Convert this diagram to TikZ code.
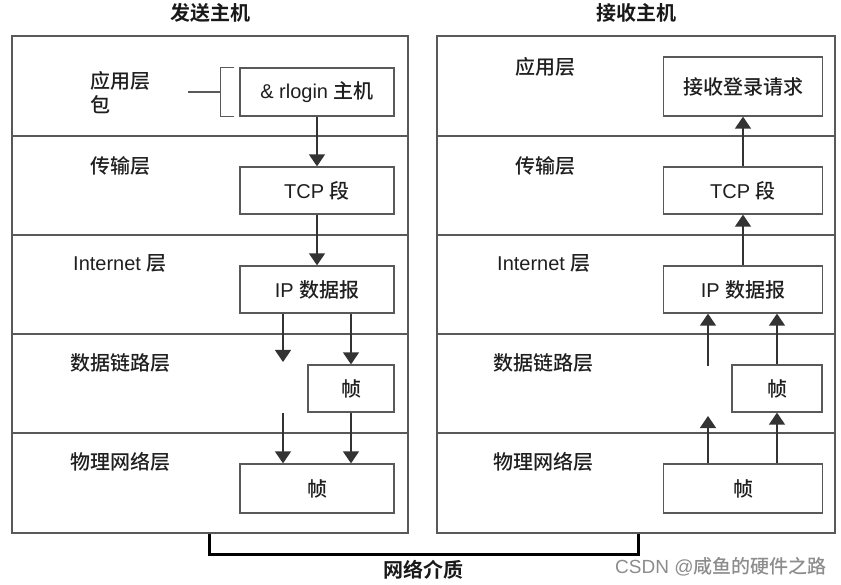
\documentclass[tikz,border=0pt]{standalone}
\usepackage{fontspec}
\setmainfont{Liberation Sans}
\newfontfamily\cjk{Noto Sans CJK SC}[UprightFont={* Medium},BoldFont={* Bold}]
\usetikzlibrary{arrows.meta}
\begin{document}
\begin{tikzpicture}[x=1pt,y=-1pt,
  line/.style={draw=black!65,line width=1.3pt},
  host/.style={line,inner sep=0pt,minimum width=#1,minimum height=497pt},
  pbox/.style={line,fill=white,inner sep=0pt,font=\fontsize{20}{22}\selectfont,text=black!88},
  lbl/.style={anchor=west,inner sep=0pt,font=\fontsize{20}{24}\selectfont,text=black!88},
  hdr/.style={inner sep=0pt,font=\fontsize{20}{22}\selectfont\bfseries,text=black!90},
  arr/.style={draw=black!80,line width=1.4pt,-{Triangle[width=16pt,length=12pt]}},
  net/.style={draw=black,line width=3pt}]
\useasboundingbox (0,0) rectangle (841,585);
% hosts
\node[host=396pt] (hostL) at (210,284.5) {};
\node[host=398pt] (hostR) at (636,284.5) {};
\node[hdr] (hdrL) at (210,13) {\cjk\bfseries 发送主机};
\node[hdr] (hdrR) at (636,13) {\cjk\bfseries 接收主机};
% layer separators
\foreach \yy in {136,235,334,433}{
  \draw[line] (hostL.west |- 0,\yy) -- (hostL.east |- 0,\yy);
  \draw[line] (hostR.west |- 0,\yy) -- (hostR.east |- 0,\yy);
}
% left labels
\node[lbl,align=left] (appL) at (90,93) {\cjk 应用层\\\cjk 包};
\node[lbl] (trL) at (90,166) {\cjk 传输层};
\node[lbl] (inL) at (73,263) {Internet {\cjk 层}};
\node[lbl] (dlL) at (70,363) {\cjk 数据链路层};
\node[lbl] (phyL) at (70,462) {\cjk 物理网络层};
% right labels
\node[lbl] (appR) at (515,67) {\cjk 应用层};
\node[lbl] (trR) at (515,166) {\cjk 传输层};
\node[lbl] (inR) at (497,263) {Internet {\cjk 层}};
\node[lbl] (dlR) at (493,363) {\cjk 数据链路层};
\node[lbl] (phyR) at (493,462) {\cjk 物理网络层};
% left boxes
\node[pbox,minimum width=154pt,minimum height=48pt] (rl) at (317,92) {\& rlogin {\cjk 主机}};
\node[pbox,minimum width=154pt,minimum height=47pt] (tcpL) at (317,190.5) {TCP {\cjk 段}};
\node[pbox,minimum width=154pt,minimum height=47pt] (ipL) at (317,289.5) {IP {\cjk 数据报}};
\node[pbox,minimum width=86pt,minimum height=47pt] (frL) at (351,388.5) {\cjk 帧};
\node[pbox,minimum width=154pt,minimum height=49pt] (phL) at (317,488.5) {\cjk 帧};
% right boxes
\node[pbox,minimum width=159pt,minimum height=59pt] (req) at (743,86.5) {\cjk 接收登录请求};
\node[pbox,minimum width=159pt,minimum height=47pt] (tcpR) at (743,190.5) {TCP {\cjk 段}};
\node[pbox,minimum width=159pt,minimum height=47pt] (ipR) at (743,289.5) {IP {\cjk 数据报}};
\node[pbox,minimum width=90pt,minimum height=47pt] (frR) at (777,388.5) {\cjk 帧};
\node[pbox,minimum width=159pt,minimum height=49pt] (phR) at (743,488.5) {\cjk 帧};
% bracket
\draw[line] ([xshift=-5pt]rl.north west) -- ([xshift=-19pt]rl.north west)
  -- ([xshift=-19pt]rl.south west) -- ([xshift=-5pt]rl.south west);
\draw[line] ([xshift=-51pt]rl.west) -- ([xshift=-19pt]rl.west);
% left arrows
\draw[arr] (rl.south) -- (tcpL.north);
\draw[arr] (tcpL.south) -- (ipL.north);
\coordinate (tipDL) at (283,362);
\draw[arr] (ipL.south -| tipDL) -- (tipDL);
\draw[arr] (frL.north |- ipL.south) -- (frL.north);
\coordinate (startPL) at (283,413);
\draw[arr] (startPL) -- (startPL |- phL.north);
\draw[arr] (frL.south) -- (frL.south |- phL.north);
% right arrows
\draw[arr] (tcpR.north) -- (req.south);
\draw[arr] (ipR.north) -- (tcpR.south);
\coordinate (startDR) at (708,366);
\draw[arr] (startDR) -- (startDR |- ipR.south);
\draw[arr] (frR.north) -- (frR.north |- ipR.south);
\coordinate (tipPR) at (708,416);
\draw[arr] (phR.north -| tipPR) -- (tipPR);
\draw[arr] (frR.south |- phR.north) -- (frR.south);
% network medium
\coordinate (netL) at (209,554);
\coordinate (netR) at (638,554);
\draw[net] (netL |- hostL.south) -- (netL) -- (netR) -- (netR |- hostR.south);
\node[hdr] (medium) at (423,570) {\cjk\bfseries 网络介质};
% watermark
\node[inner sep=0pt,anchor=west,font=\fontsize{19}{22}\selectfont,text=black!45] (wm) at (615,567) {CSDN @{\cjk\mdseries 咸鱼的硬件之路}};
\end{tikzpicture}
\end{document}
